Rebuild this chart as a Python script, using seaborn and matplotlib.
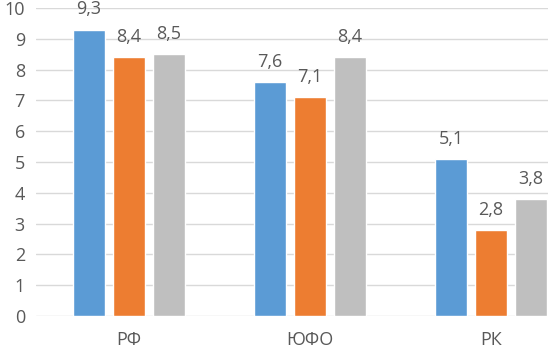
import pandas as pd
import matplotlib
matplotlib.use('Agg')
import matplotlib.pyplot as plt
import seaborn as sns

# Data
regions = ['РФ', 'ЮФО', 'РК']
series_names = ['s1', 's2', 's3']
s1_values = [9.3, 7.6, 5.1]
s2_values = [8.4, 7.1, 2.8]
s3_values = [8.5, 8.4, 3.8]
y_ticks = [0, 1, 2, 3, 4, 5, 6, 7, 8, 9, 10]

colors = ['#5B9BD5', '#ED7D31', '#BFBFBF']
text_color = '#595959'

df = pd.DataFrame({
    'region': regions * 3,
    'series': [n for n in series_names for _ in regions],
    'value': s1_values + s2_values + s3_values,
})

sns.set_style('white')
plt.rcParams['font.family'] = ['Open Sans', 'DejaVu Sans']

fig = plt.figure(figsize=(5.48, 3.48), dpi=100)
# plot area runs past the right edge, as in the reference
ax = fig.add_axes([36 / 548, 32 / 348, 545.5 / 548, 308 / 348])

sns.barplot(data=df, x='region', y='value', hue='series', palette=colors,
            width=0.663, gap=0.2, legend=False, ax=ax, saturation=1)

for cont in ax.containers:
    ax.bar_label(cont, labels=[f'{v:.1f}'.replace('.', ',') for v in cont.datavalues],
                 padding=8, fontsize=13, color=text_color)

ax.set_ylim(0, 10)
ax.set_xlim(-0.5 - 2.5 / 181, 2.5)
ax.set_yticks(y_ticks)
ax.yaxis.grid(True, color='#D9D9D9', linewidth=1)
ax.set_axisbelow(True)
for s in ax.spines.values():
    s.set_visible(False)
ax.set_xlabel('')
ax.set_ylabel('')
ax.tick_params(axis='y', length=0, pad=8, labelsize=13, labelcolor=text_color)
ax.tick_params(axis='x', length=0, pad=11, labelsize=13, labelcolor=text_color)

plt.savefig('out.png', dpi=100)
plt.close()
